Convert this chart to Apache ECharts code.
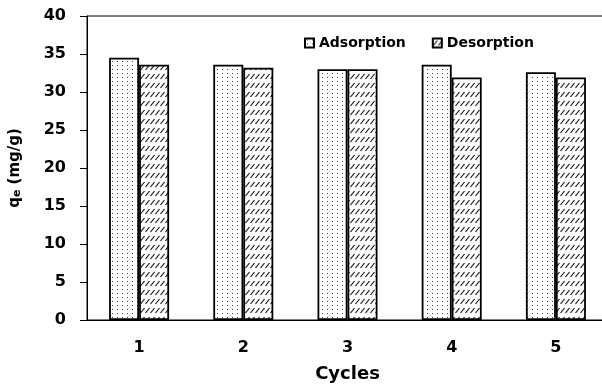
<!DOCTYPE html>
<html>
<head>
<meta charset="utf-8">
<script src="https://cdn.jsdelivr.net/npm/echarts@6/dist/echarts.min.js"></script>
<style>html,body{margin:0;padding:0;background:#fff;}#c{width:602px;height:387px;}</style>
</head>
<body>
<div id="c"></div>
<script>
var categories = ['1', '2', '3', '4', '5'];
var adsorption = [34.5, 33.6, 33.0, 33.6, 32.6];
var desorption = [33.6, 33.2, 33.0, 31.9, 31.9];
var seriesNames = ['Adsorption', 'Desorption'];
var yTicks = { min: 0, max: 40, interval: 5 };

function dotPattern() {
  var c = document.createElement('canvas');
  c.width = 5; c.height = 4;
  var g = c.getContext('2d');
  g.fillStyle = '#fff'; g.fillRect(0, 0, 5, 4);
  g.fillStyle = '#444'; g.fillRect(2, 1, 1, 1);
  return c;
}
function hatchPattern() {
  var c = document.createElement('canvas');
  c.width = 5; c.height = 9;
  var g = c.getContext('2d');
  g.fillStyle = '#fff'; g.fillRect(0, 0, 5, 9);
  g.strokeStyle = '#111'; g.lineWidth = 1.2;
  g.beginPath(); g.moveTo(0.5, 7); g.lineTo(4.5, 2); g.stroke();
  return c;
}

var chart = echarts.init(document.getElementById('c'), null, { renderer: 'canvas' });
var font = 'DejaVu Sans';
chart.setOption({
  animation: false,
  backgroundColor: '#fff',
  textStyle: { fontFamily: font },
  legend: {
    left: 299, top: 31,
    icon: 'rect',
    itemWidth: 9, itemHeight: 9, itemGap: 26,
    textStyle: { fontFamily: font, fontWeight: 'bold', fontSize: 14, color: '#000' },
    data: seriesNames
  },
  grid: { left: 87, top: 16, width: 521, height: 304, outerBoundsMode: 'none', containLabel: false,
    show: true, borderColor: '#000', borderWidth: 1, backgroundColor: 'transparent' },
  xAxis: {
    type: 'category', data: categories,
    name: 'Cycles', nameLocation: 'middle', nameGap: 45,
    nameTextStyle: { fontFamily: font, fontWeight: 'bold', fontSize: 18, color: '#000' },
    axisLine: { lineStyle: { color: '#000', width: 1 } },
    axisTick: { length: 7, lineStyle: { color: '#000' } },
    axisLabel: { margin: 20, fontFamily: font, fontWeight: 'bold', fontSize: 16, color: '#000' },
    splitLine: { show: false }
  },
  yAxis: {
    type: 'value', min: yTicks.min, max: yTicks.max, interval: yTicks.interval,
    name: '{a|q}{b|e}{a| (mg/g)}', nameLocation: 'middle', nameGap: 64, nameRotate: 90,
    nameTextStyle: { rich: {
      a: { fontFamily: font, fontWeight: 'bold', fontSize: 15, color: '#000' },
      b: { fontFamily: font, fontWeight: 'bold', fontSize: 11, color: '#000', verticalAlign: 'bottom' }
    } },
    axisLine: { show: true, lineStyle: { color: '#000', width: 1 } },
    axisTick: { show: true, length: 7, lineStyle: { color: '#000' } },
    axisLabel: { margin: 21, fontFamily: font, fontWeight: 'bold', fontSize: 16, color: '#000' },
    splitLine: { show: false }
  },
  series: [
    { name: seriesNames[0], type: 'bar', data: adsorption, barWidth: 30, barGap: '0%',
      itemStyle: { color: { image: dotPattern(), repeat: 'repeat' }, borderColor: '#000', borderWidth: 1.8 } },
    { name: seriesNames[1], type: 'bar', data: desorption, barWidth: 30, barGap: '0%',
      itemStyle: { color: { image: hatchPattern(), repeat: 'repeat' }, borderColor: '#000', borderWidth: 1.8 } }
  ]
});
</script>
</body>
</html>
